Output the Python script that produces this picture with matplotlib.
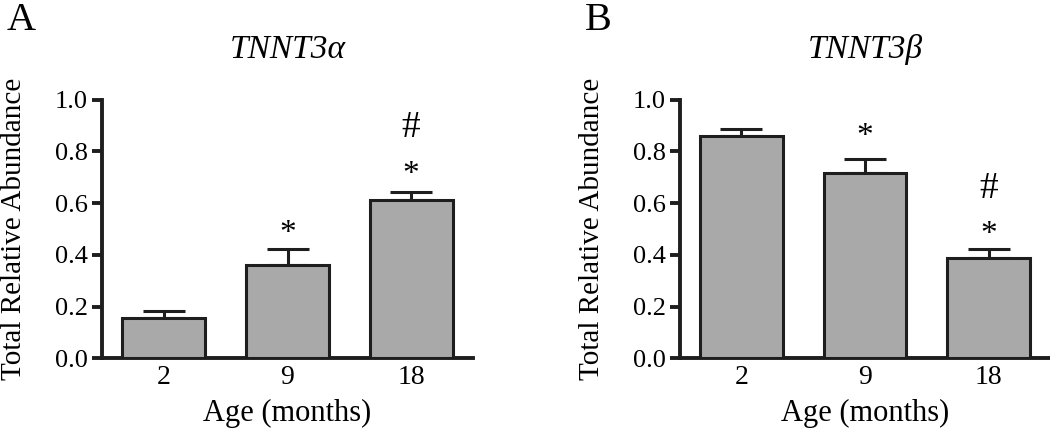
import matplotlib
matplotlib.use("Agg")
import matplotlib.pyplot as plt
import numpy as np

plt.rcParams['font.family'] = ['Liberation Serif', 'DejaVu Serif']

ages = ["2", "9", "18"]
alpha_mean = [0.157, 0.361, 0.612]
alpha_sem = [0.027, 0.060, 0.032]
beta_mean = [0.860, 0.717, 0.389]
beta_sem = [0.028, 0.053, 0.035]

alpha_marks = [[], ["*"], ["*", "#"]]
alpha_mark_y = [[], [0.48], [0.71, 0.89]]
beta_marks = [[], ["*"], ["*", "#"]]
beta_mark_y = [[], [0.858], [0.478, 0.655]]

panels = [
    ("A", "TNNT3α", alpha_mean, alpha_sem, alpha_marks, alpha_mark_y, 102),
    ("B", "TNNT3β", beta_mean, beta_sem, beta_marks, beta_mark_y, 679.5),
]

W, H = 1050, 432
fig = plt.figure(figsize=(W / 100, H / 100), dpi=100)

bar_color = "#a9a9a9"
edge = "#1e1e1e"
lw = 2.8

for letter, title, means, sems, marks, marks_y, left_px in panels:
    ax = fig.add_axes([left_px / W, 1 - 358.3 / H, 371 / W, 258.6 / H])
    x = np.arange(len(ages))
    ax.bar(x, means, width=0.67, color=bar_color, edgecolor=edge, linewidth=2.2, zorder=3)
    ax.errorbar(x, means, yerr=[np.zeros(len(sems)), sems], fmt="none",
                ecolor=edge, elinewidth=2.2, capsize=15, capthick=2.2, zorder=2)
    ax.set_xlim(-0.5, 2.5)
    ax.set_ylim(0, 1.0)
    ax.set_yticks(np.arange(0, 1.01, 0.2))
    ax.set_yticklabels([f"{v:.1f}" for v in np.arange(0, 1.01, 0.2)])
    ax.set_xticks(x)
    ax.set_xticklabels(ages)
    ax.tick_params(axis="y", direction="out", length=7, width=lw, labelsize=19, pad=3, color=edge)
    ax.tick_params(axis="x", length=0, labelsize=20, pad=5)
    for s in ["top", "right"]:
        ax.spines[s].set_visible(False)
    for s in ["left", "bottom"]:
        ax.spines[s].set_linewidth(lw)
        ax.spines[s].set_color(edge)
    ax.set_ylabel("Total Relative Abundance", fontsize=21, labelpad=20)
    ax.set_xlabel("Age (months)", fontsize=22, labelpad=6)
    ax.set_title(title, fontsize=24, style="italic", pad=30)
    for i, (ms, ys) in enumerate(zip(marks, marks_y)):
        for m, yv in zip(ms, ys):
            if m == "*":
                ax.text(i, yv, m, ha="center", va="center", fontsize=24, zorder=4)
            else:
                ax.text(i, yv, m, ha="center", va="center", fontsize=27, zorder=4)
    fig.text((left_px - 95) / W, 1 - 2 / H, letter, fontsize=29, ha="left", va="top")

fig.savefig("out.png", dpi=100)
